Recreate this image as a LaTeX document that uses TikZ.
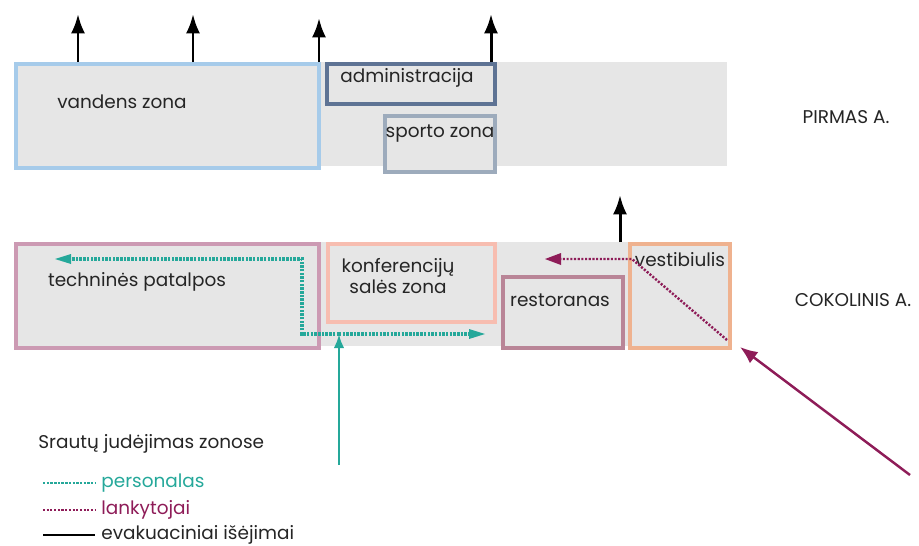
\documentclass[tikz,border=0pt]{standalone}
\usepackage{fontspec}
\setmainfont{Poppins}
\usepackage{tikz}
\usetikzlibrary{arrows.meta, positioning}

\definecolor{bandgray}{HTML}{E6E6E6}
\definecolor{vandcol}{HTML}{A6CBEA}
\definecolor{admcol}{HTML}{5E7394}
\definecolor{sportcol}{HTML}{9DABBC}
\definecolor{techcol}{HTML}{CC9AB3}
\definecolor{konfcol}{HTML}{F7BDB0}
\definecolor{restcol}{HTML}{B98597}
\definecolor{vestcol}{HTML}{EFB28F}
\definecolor{perscol}{HTML}{25A89A}
\definecolor{lankcol}{HTML}{8E1C58}
\definecolor{textcol}{HTML}{252525}

\begin{document}
\begin{tikzpicture}[x=0.02cm, y=-0.02cm, >={Latex[length=11pt, width=8pt]},
	every node/.style={text=textcol, font=\fontsize{10.5}{12}\selectfont, inner sep=0pt},
	zone/.style={draw, line width=2.1pt, fill=bandgray, anchor=north west, minimum width=#1},
	exitline/.style={->, line width=1.7pt, black},
	personal/.style={line width=2.2pt, perscol, dash pattern=on 1.4pt off 0.7pt},
	visitor/.style={line width=1.4pt, lankcol, dash pattern=on 1.2pt off 0.9pt}]

	\useasboundingbox (0,0) rectangle (919,545);

	% aukstu juostos
	\fill [bandgray] (14,62) rectangle (727,166);
	\fill [bandgray] (14,242) rectangle (727,346);

	% pirmas aukstas
	\node [zone=6.06cm, draw=vandcol, minimum height=2.08cm] (V) at (14,62) {};
	\node [zone=3.36cm, draw=admcol, minimum height=0.8cm] (A) at (325,62) {};
	\node [zone=2.2cm, draw=sportcol, minimum height=1.12cm] (S) at (383,114) {};
	\node (Vt) at (122,102) {vandens zona};
	\node (At) at (407,78) {administracija};
	\node (St) at (440,134) {sporto zona};
	\node (P) at (846,117) {PIRMAS A.};

	% cokolinis aukstas
	\node [zone=6.06cm, draw=techcol, minimum height=2.08cm] (T) at (14,242) {};
	\node [zone=3.34cm, draw=konfcol, minimum height=1.56cm] (K) at (326,242) {};
	\node [zone=2.4cm, draw=restcol, minimum height=1.42cm] (R) at (501,275) {};
	\node [zone=2.0cm, draw=vestcol, minimum height=2.08cm] (E) at (628,242) {};
	\node (Tt) at (137,282) {techninės patalpos};
	\node [align=center] (Kt) at (398,276) {konferencijų\\salės zona};
	\node (Rt) at (560,300) {restoranas};
	\node (Et) at (680,260) {vestibiulis};
	\node (C) at (853,300) {COKOLINIS A.};

	% evakuaciniai isejimai
	\coordinate (x1) at (78,14);
	\coordinate (x2) at (193,14);
	\coordinate (x3) at (319,18);
	\coordinate (x4) at (491,14);
	\coordinate (x5) at (620,195);
	\draw [exitline] (V.north west -| x1) -- (x1);
	\draw [exitline] (V.north west -| x2) -- (x2);
	\draw [exitline] (V.north east -| x3) -- (x3);
	\draw [exitline] (A.north east -| x4) -- (x4);
	\draw [exitline] (E.north west -| x5) -- (x5);

	% personalas
	\coordinate (p0) at (339,465);
	\coordinate (p1) at (339,334);
	\coordinate (p2) at (302,334);
	\coordinate (p3) at (302,259);
	\coordinate (p4) at (55,259);
	\coordinate (p5) at (485,334);
	\draw [->, >={Latex[length=8pt, width=6pt]}, line width=1.6pt, perscol] (p0) -- (p1);
	\draw [personal] (p1) -- (p2) -- (p3) -- ([xshift=0.2cm]p4);
	\draw [personal] (p1) -- ([xshift=-0.2cm]p5);
	\fill [perscol] (p4) -- ++(16,-5) -- ++(0,10) -- cycle;
	\fill [perscol] (p5) -- ++(-16,-5) -- ++(0,10) -- cycle;

	% lankytojai
	\coordinate (l0) at (910,475);
	\coordinate (l1) at (740,347);
	\coordinate (l2) at (727,340);
	\coordinate (l3) at (632,259);
	\coordinate (l4) at (545,259);
	\draw [->, >={Latex[length=10pt, width=8pt]}, line width=1.4pt, lankcol] (l0) -- (l1);
	\draw [visitor] (l2) -- (l3) -- ([xshift=0.2cm]l4);
	\fill [lankcol] (l4) -- ++(16,-6) -- ++(0,12) -- cycle;

	% legenda
	\node [anchor=west] (L) at (38,444) {Srautų judėjimas zonose};
	\node [anchor=west, text=perscol] (L1) at (101,483) {personalas};
	\node [anchor=west, text=lankcol] (L2) at (101,510) {lankytojai};
	\node [anchor=west] (L3) at (101,535) {evakuaciniai išėjimai};
	\draw [personal, line width=1.6pt] (L1.west) ++(-58,0) -- ([xshift=-0.12cm]L1.west);
	\draw [visitor] (L2.west) ++(-58,0) -- ([xshift=-0.12cm]L2.west);
	\draw [line width=1.6pt] (L3.west) ++(-58,0) -- ([xshift=-0.12cm]L3.west);

\end{tikzpicture}
\end{document}
